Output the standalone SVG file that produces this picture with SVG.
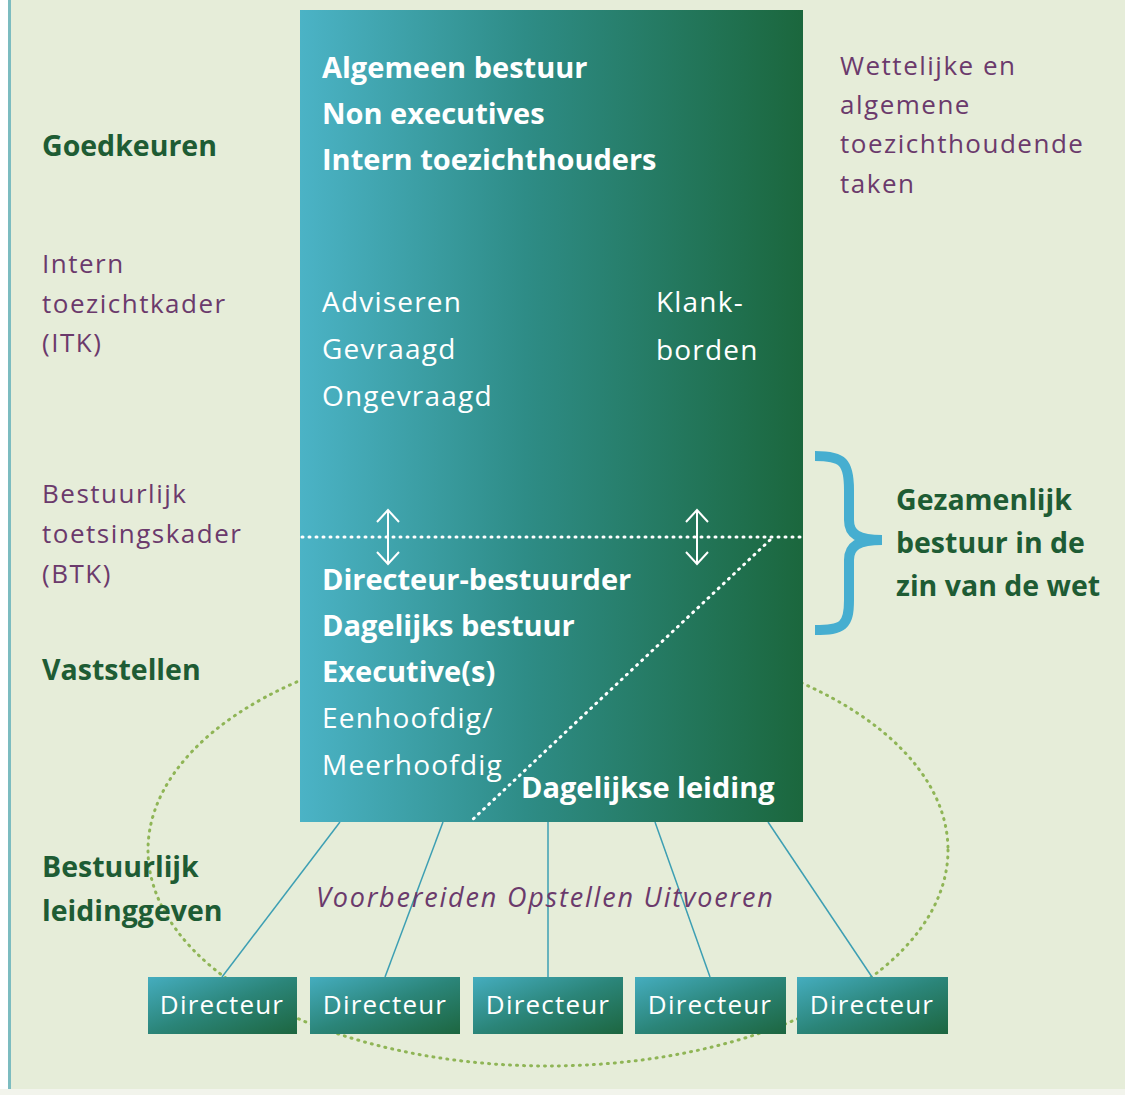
<svg xmlns="http://www.w3.org/2000/svg" width="1125" height="1095" viewBox="0 0 1125 1095">
<defs>
<linearGradient id="gMain" x1="0" y1="0" x2="1" y2="0">
<stop offset="0" stop-color="#4bb3c6"/>
<stop offset="0.45" stop-color="#2e8c86"/>
<stop offset="1" stop-color="#1b673d"/>
</linearGradient>
<linearGradient id="gDir" x1="0" y1="0" x2="1" y2="1">
<stop offset="0" stop-color="#45adbf"/>
<stop offset="0.5" stop-color="#2b8579"/>
<stop offset="1" stop-color="#1d6640"/>
</linearGradient>
<style>
text{font-family:"Open Sans","Noto Sans","Liberation Sans",sans-serif;}
.wb{fill:#ffffff;font-weight:bold;font-size:29px;}
.wn{fill:#ffffff;font-size:28px;letter-spacing:1.2px;}
.pu{fill:#6b3a6c;font-size:26px;letter-spacing:1.5px;}
.gb{fill:#1e5c34;font-weight:bold;font-size:28.5px;}
.it{fill:#6b3a6c;font-size:27px;font-style:italic;letter-spacing:1.8px;}
.dir{fill:#ffffff;font-size:26px;letter-spacing:1.2px;}
.conn{stroke:#3d9fb3;stroke-width:1.5;fill:none;}
.arr{stroke:#ffffff;stroke-width:2;fill:none;}
</style>
</defs>
<rect x="0" y="0" width="1125" height="1095" fill="#e6edd9"/>
<rect x="0" y="0" width="8" height="1095" fill="#ffffff"/>
<rect x="8" y="0" width="3" height="1095" fill="#7cbcc0"/>
<rect x="0" y="1089" width="1125" height="6" fill="#f2f4ec"/>

<ellipse id="ellipse" cx="548" cy="850" rx="400" ry="216" fill="none" stroke="#8fb556" stroke-width="3" stroke-dasharray="1 6" stroke-linecap="round"/>

<g id="connectors">
<line class="conn" x1="340" y1="822" x2="222" y2="977"/>
<line class="conn" x1="443" y1="822" x2="385" y2="977"/>
<line class="conn" x1="548" y1="822" x2="548" y2="977"/>
<line class="conn" x1="655" y1="822" x2="710" y2="977"/>
<line class="conn" x1="768" y1="822" x2="872" y2="977"/>
</g>

<g id="main">
<rect x="300" y="10" width="503" height="812" fill="url(#gMain)"/>
<text class="wb" x="322" y="78">Algemeen bestuur</text>
<text class="wb" x="322" y="124">Non executives</text>
<text class="wb" x="322" y="170">Intern toezichthouders</text>
<text class="wn" x="322" y="312">Adviseren</text>
<text class="wn" x="322" y="359">Gevraagd</text>
<text class="wn" x="322" y="406">Ongevraagd</text>
<text class="wn" x="656" y="312">Klank-</text>
<text class="wn" x="656" y="360">borden</text>
<line x1="302" y1="537" x2="803" y2="537" stroke="#ffffff" stroke-width="3" stroke-dasharray="1 6" stroke-linecap="round"/>
<line x1="770" y1="540" x2="470" y2="822" stroke="#ffffff" stroke-width="3" stroke-dasharray="1 6" stroke-linecap="round"/>
<path class="arr" d="M388,510 L388,564 M377,522 L388,510 L399,522 M377,552 L388,564 L399,552"/>
<path class="arr" d="M697,510 L697,564 M686,522 L697,510 L708,522 M686,552 L697,564 L708,552"/>
<text class="wb" x="322" y="590">Directeur-bestuurder</text>
<text class="wb" x="322" y="636">Dagelijks bestuur</text>
<text class="wb" x="322" y="682">Executive(s)</text>
<text class="wn" x="322" y="728">Eenhoofdig/</text>
<text class="wn" x="322" y="775">Meerhoofdig</text>
<text class="wb" x="521" y="798">Dagelijkse leiding</text>
</g>

<g id="left-labels">
<text class="gb" x="42" y="156">Goedkeuren</text>
<text class="pu" x="42" y="273">Intern</text>
<text class="pu" x="42" y="313">toezichtkader</text>
<text class="pu" x="42" y="352">(ITK)</text>
<text class="pu" x="42" y="503">Bestuurlijk</text>
<text class="pu" x="42" y="543">toetsingskader</text>
<text class="pu" x="42" y="583">(BTK)</text>
<text class="gb" x="42" y="680">Vaststellen</text>
<text class="gb" x="42" y="877">Bestuurlijk</text>
<text class="gb" x="42" y="921">leidinggeven</text>
</g>

<g id="right-labels">
<text class="pu" x="840" y="75">Wettelijke en</text>
<text class="pu" x="840" y="114">algemene</text>
<text class="pu" x="840" y="153">toezichthoudende</text>
<text class="pu" x="840" y="193">taken</text>
<path d="M815,456 C843,456 849,462 849,490 L849,520 C849,534 858,540 882,540 C858,540 849,546 849,560 L849,600 C849,626 843,630 815,630" fill="none" stroke="#46aed0" stroke-width="10"/>
<text class="gb" x="896" y="510">Gezamenlijk</text>
<text class="gb" x="896" y="553">bestuur in de</text>
<text class="gb" x="896" y="596">zin van de wet</text>
</g>

<text class="it" x="316" y="907">Voorbereiden Opstellen Uitvoeren</text>

<g id="dir1"><rect x="148" y="977" width="149" height="57" fill="url(#gDir)"/><text class="dir" x="222" y="1014" text-anchor="middle">Directeur</text></g>
<g id="dir2"><rect x="310" y="977" width="150" height="57" fill="url(#gDir)"/><text class="dir" x="385" y="1014" text-anchor="middle">Directeur</text></g>
<g id="dir3"><rect x="473" y="977" width="150" height="57" fill="url(#gDir)"/><text class="dir" x="548" y="1014" text-anchor="middle">Directeur</text></g>
<g id="dir4"><rect x="635" y="977" width="151" height="57" fill="url(#gDir)"/><text class="dir" x="710" y="1014" text-anchor="middle">Directeur</text></g>
<g id="dir5"><rect x="797" y="977" width="151" height="57" fill="url(#gDir)"/><text class="dir" x="872" y="1014" text-anchor="middle">Directeur</text></g>
</svg>
